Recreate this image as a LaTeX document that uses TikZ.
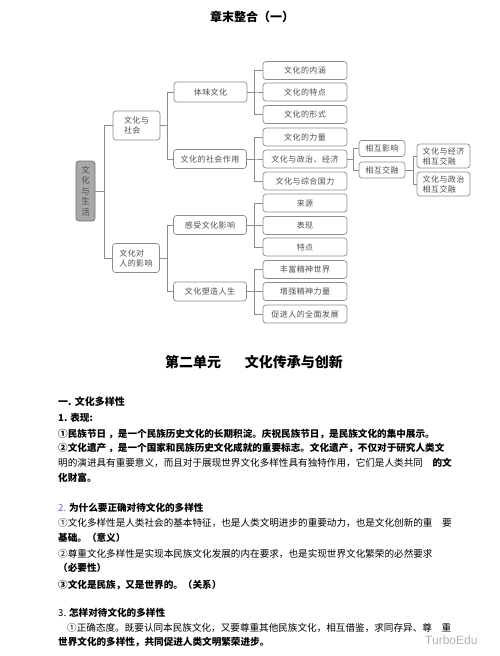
\documentclass[tikz,border=0pt]{standalone}
\usepackage{fontspec}
\newfontfamily\cjk{Noto Sans CJK SC}
\newfontfamily\cjkspaced[LetterSpace=6]{Noto Sans CJK SC}
\newfontfamily\wmfont{Liberation Sans}
\definecolor{linegray}{HTML}{8C8C8C}
\definecolor{textgray}{HTML}{4D4D4D}
\definecolor{rootfill}{HTML}{A8A8A8}
\definecolor{numpurple}{HTML}{7B5EA7}
\begin{document}
\begin{tikzpicture}[x=1pt,y=-1pt,
  box/.style={draw=linegray,line width=.7pt,rounded corners=3pt,text=textgray,inner sep=0pt,minimum height=18pt,align=center,font=\fontsize{8}{10}\selectfont\cjkspaced},
  leaf/.style={box,minimum width=84pt},
  link/.style={draw=linegray,line width=.7pt},
  para/.style={anchor=west,inner sep=0pt,font=\fontsize{9.6}{10}\selectfont\cjk}]
\useasboundingbox(0,0)rectangle(500,656);
\node[font=\fontsize{12}{12}\selectfont\cjk\bfseries](title)at(252,17){章末整合（一）};
\node[box,fill=rootfill,draw=linegray!80!black,minimum width=19pt,minimum height=60pt,font=\fontsize{8.5}{10.5}\selectfont\cjk](root)at(85.5,191){文\\化\\与\\生\\活};
\node[box,minimum width=47pt,minimum height=29pt,align=left](soc)at(136.5,125.5){文化与\\社会};
\node[box,minimum width=47pt,minimum height=29pt,align=left](ppl)at(136,258){文化对\\人的影响};
\draw[link](root.east)--++(9,0)|-(soc.west);
\draw[link](root.east)--++(9,0)|-(ppl.west);
\node[box,minimum width=73pt,minimum height=20pt](tiwei)at(210.5,92){体味文化};
\node[box,minimum width=73pt,minimum height=19pt](zuoyong)at(210,159){文化的社会作用};
\node[box,minimum width=73pt,minimum height=19pt](ganshou)at(210,225){感受文化影响};
\node[box,minimum width=73pt,minimum height=19pt](suzao)at(210,291.5){文化塑造人生};
\foreach \n in {tiwei,zuoyong}\draw[link](soc.east)--++(7,0)|-(\n.west);
\foreach \n in {ganshou,suzao}\draw[link](ppl.east)--++(7,0)|-(\n.west);
\foreach \n/\t/\y/\p in {neihan/文化的内涵/70.5/tiwei,tedian/文化的特点/92/tiwei,xingshi/文化的形式/114.5/tiwei,
  liliang/文化的力量/137/zuoyong,zhengjing/文化与政治、经济/159/zuoyong,guoli/文化与综合国力/181/zuoyong,
  laiyuan/来源/203/ganshou,biaoxian/表现/225.5/ganshou,tedian2/特点/247/ganshou,
  fengfu/丰富精神世界/269.5/suzao,zengqiang/增强精神力量/291.5/suzao,cujin/促进人的全面发展/314/suzao}{
  \node[leaf](\n)at(305,\y){\t};
  \draw[link](\p.east)--++(7,0)|-(\n.west);
}
\node[box,minimum width=46pt,minimum height=16pt](yingxiang)at(382,148.5){相互影响};
\node[box,minimum width=46pt,minimum height=16pt](jiaorong)at(382,170){相互交融};
\foreach \n in {yingxiang,jiaorong}\draw[link](zhengjing.east)--++(6,0)|-(\n.west);
\node[box,minimum width=53pt,minimum height=24pt,align=left](jingji)at(443.5,156){文化与经济\\相互交融};
\node[box,minimum width=53pt,minimum height=24pt,align=left](zhengzhi)at(443.5,184){文化与政治\\相互交融};
\foreach \n in {jingji,zhengzhi}\draw[link](jiaorong.east)--++(8,0)|-(\n.west);
\node[font=\fontsize{14}{14}\selectfont\cjk\bfseries](unit)at(254,362){第二单元\hspace{24pt}文化传承与创新};
\node[para,font=\fontsize{10}{10}\selectfont\cjk\bfseries](h1)at(58,402){一. 文化多样性};
\node[para,font=\fontsize{9.6}{10}\selectfont\cjk\bfseries](s1)at(58,418){1. 表现:};
\node[para,font=\fontsize{9.6}{10}\selectfont\cjk\bfseries](a1)at(58,434){①民族节日 ，是一个民族历史文化的长期积淀。庆祝民族节日，是民族文化的集中展示。};
\node[para,font=\fontsize{9.6}{10}\selectfont\cjk\bfseries](a2)at(58,448.5){②文化遗产 ，是一个国家和民族历史文化成就的重要标志。文化遗产，不仅对于研究人类文};
\node[para](a3)at(58,463){明的演进具有重要意义，而且对于展现世界文化多样性具有独特作用，它们是人类共同　{\bfseries 的文}};
\node[para,font=\fontsize{9.6}{10}\selectfont\cjk\bfseries](a4)at(58,478){化财富。};
\node[para,font=\fontsize{9.6}{10}\selectfont\cjk\bfseries](s2)at(58,508){{\color{numpurple}\mdseries 2.} 为什么要正确对待文化的多样性};
\node[para](b1)at(58,522.5){①文化多样性是人类社会的基本特征，也是人类文明进步的重要动力，也是文化创新的重　要};
\node[para,font=\fontsize{9.6}{10}\selectfont\cjk\bfseries](b2)at(58,538){基础。（意义）};
\node[para](b3)at(58,554){②尊重文化多样性是实现本民族文化发展的内在要求，也是实现世界文化繁荣的必然要求};
\node[para,font=\fontsize{9.6}{10}\selectfont\cjk\bfseries](b4)at(58,567.5){（必要性）};
\node[para,font=\fontsize{9.6}{10}\selectfont\cjk\bfseries](b5)at(58,585){③文化是民族，又是世界的。（关系）};
\node[para,font=\fontsize{9.6}{10}\selectfont\cjk\bfseries](s3)at(58,613){{\mdseries 3.} 怎样对待文化的多样性};
\node[para](c1)at(67,627.5){①正确态度。既要认同本民族文化，又要尊重其他民族文化，相互借鉴，求同存异、尊　重};
\node[para,font=\fontsize{9.6}{10}\selectfont\cjk\bfseries](c2)at(58,642){世界文化的多样性，共同促进人类文明繁荣进步。};
\node[anchor=west,inner sep=0pt,text=black!30,font=\fontsize{12}{12}\selectfont\wmfont](mark)at(425,640){TurboEdu};
\end{tikzpicture}
\end{document}
